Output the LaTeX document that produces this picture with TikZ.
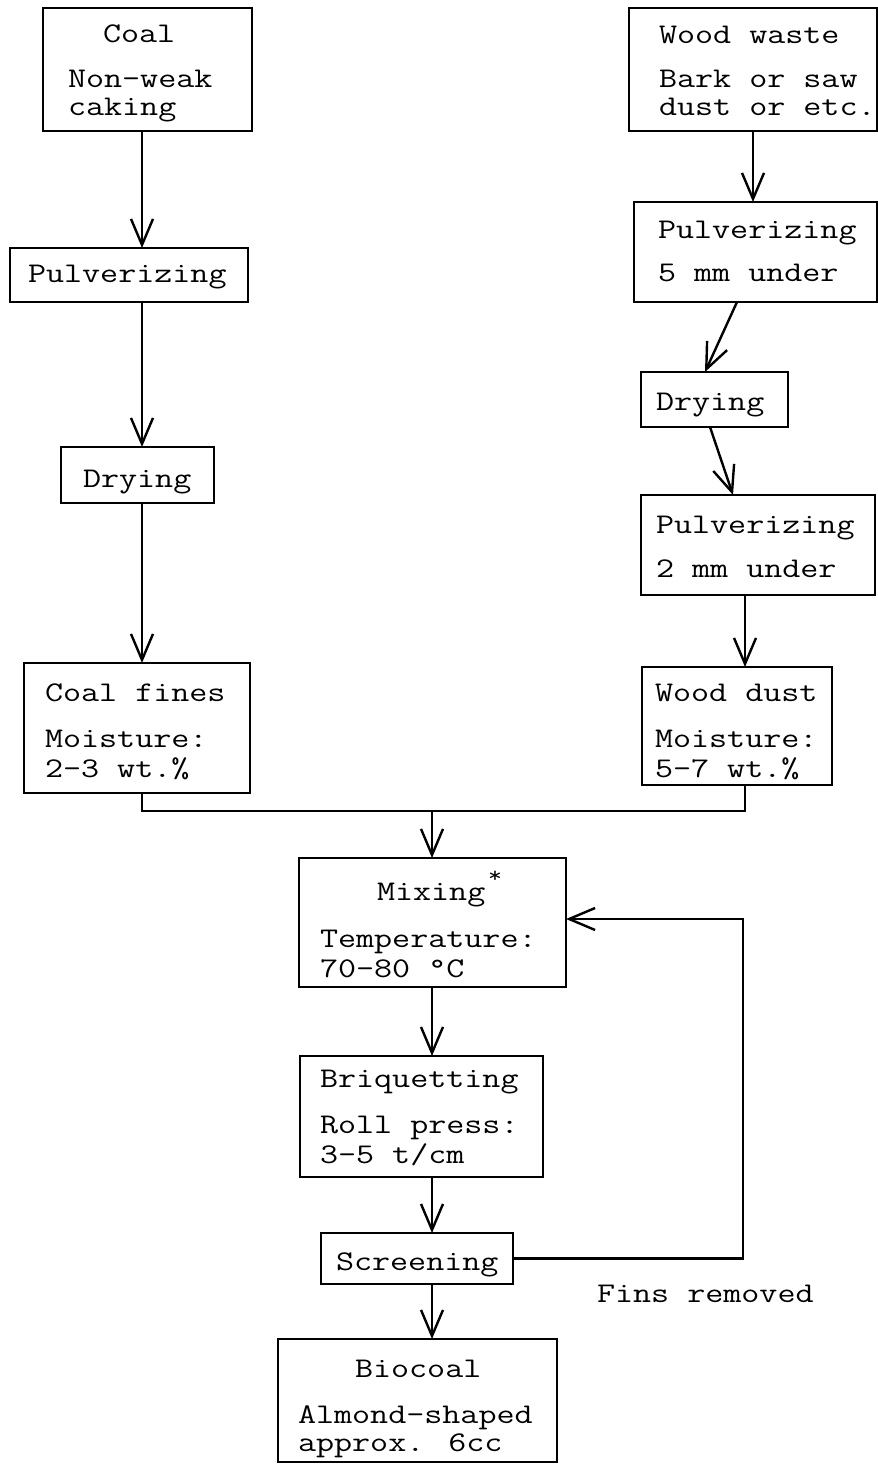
\documentclass[tikz,border=0pt]{standalone}
\usepackage{fontspec}
\usepackage{graphicx}
\usetikzlibrary{arrows.meta}
\newcommand{\tw}[1]{\scalebox{1.23}[1]{#1}}
\begin{document}
\begin{tikzpicture}[x=1pt,y=-1pt,
  box/.style={draw=black, line width=2.8pt, inner sep=0pt, outer sep=0pt, fill=none},
  txt/.style={inner sep=0pt, outer sep=0pt, anchor=base west, font=\fontsize{28.5}{30}\selectfont\ttfamily},
  conn/.style={draw=black, line width=2.4pt},
  arr/.style={conn, -{Straight Barb[length=26pt, width=22pt, line width=2.4pt]}}
]
\useasboundingbox[fill=white] (0,0) rectangle (878,1467);

% ---------- boxes ----------
\node[box, minimum width=209pt, minimum height=123pt] (coal)   at (147.5,69.5) {};
\node[box, minimum width=238pt, minimum height=54pt]  (pulvL)  at (129,275) {};
\node[box, minimum width=153pt, minimum height=56pt]  (dryL)   at (137.5,475) {};
\node[box, minimum width=226pt, minimum height=130pt] (fines)  at (137,728) {};
\node[box, minimum width=248pt, minimum height=123pt] (wood)   at (753,69.5) {};
\node[box, minimum width=243pt, minimum height=100pt] (pulvR)  at (755.5,252) {};
\node[box, minimum width=147pt, minimum height=55pt]  (dryR)   at (714.5,399.5) {};
\node[box, minimum width=234pt, minimum height=100pt] (pulv2)  at (758,545) {};
\node[box, minimum width=190pt, minimum height=118pt] (dust)   at (737,726) {};
\node[box, minimum width=267pt, minimum height=129pt] (mix)    at (432.5,922.5) {};
\node[box, minimum width=243pt, minimum height=121pt] (briq)   at (421.5,1116.5) {};
\node[box, minimum width=192pt, minimum height=51pt]  (screen) at (417,1258.5) {};
\node[box, minimum width=279pt, minimum height=123pt] (bio)    at (417.5,1400.5) {};

% ---------- texts ----------
\node[txt] (t1)  at (103,42)  {\tw{Coal}};
\node[txt] (t2)  at (68,87)   {\tw{Non-weak}};
\node[txt] (t3)  at (68,115)  {\tw{caking}};
\node[txt] (t4)  at (28,282)  {\tw{Pulverizing}};
\node[txt] (t5)  at (83,487)  {\tw{Drying}};
\node[txt] (t6)  at (45,701)  {\tw{Coal fines}};
\node[txt] (t7)  at (45,747)  {\tw{Moisture:}};
\node[txt] (t8)  at (45,777)  {\tw{2-3 wt.\%}};
\node[txt] (t9)  at (659,43)  {\tw{Wood waste}};
\node[txt] (t10) at (659,87)  {\tw{Bark or saw}};
\node[txt] (t11) at (659,115) {\tw{dust or etc.}};
\node[txt] (t12) at (658,238) {\tw{Pulverizing}};
\node[txt] (t13) at (658,281) {\tw{5 mm under}};
\node[txt] (t14) at (656,410) {\tw{Drying}};
\node[txt] (t15) at (656,533) {\tw{Pulverizing}};
\node[txt] (t16) at (656,577) {\tw{2 mm under}};
\node[txt] (t17) at (655,701) {\tw{Wood dust}};
\node[txt] (t18) at (655,747) {\tw{Moisture:}};
\node[txt] (t19) at (655,777) {\tw{5-7 wt.\%}};
\node[txt] (t20) at (377,900) {\tw{Mixing}};
\node[inner sep=0pt, font=\fontsize{22}{22}\selectfont\ttfamily] (ast) at (495,877) {\tw{*}};
\node[txt] (t21) at (320,947) {\tw{Temperature:}};
\node[txt] (t22) at (320,977) {\tw{70-80 °C}};
\node[txt] (t23) at (320,1087) {\tw{Briquetting}};
\node[txt] (t24) at (320,1133) {\tw{Roll press:}};
\node[txt] (t25) at (320,1163) {\tw{3-5 t/cm}};
\node[txt] (t26) at (336,1270) {\tw{Screening}};
\node[txt] (t27) at (355,1377) {\tw{Biocoal}};
\node[txt] (t28) at (298,1423) {\tw{Almond-shaped}};
\node[txt] (t29) at (298,1451) {\tw{approx. 6cc}};
\node[txt] (t30) at (597,1302) {\tw{Fins removed}};

% ---------- connectors ----------
\draw[arr] (142,0 |- coal.south) -- (142,0 |- pulvL.north);
\draw[arr] (142,0 |- pulvL.south) -- (142,0 |- dryL.north);
\draw[arr] (142,0 |- dryL.south) -- (142,0 |- fines.north);
\draw[arr] (753,0 |- wood.south) -- (753,0 |- pulvR.north);
\draw[arr] (737,0 |- pulvR.south) -- (705,0 |- dryR.north);
\draw[arr] (710,0 |- dryR.south) -- (733,0 |- pulv2.north);
\draw[arr] (745,0 |- pulv2.south) -- (745,0 |- dust.north);

\coordinate (mj) at (432,811);
\draw[conn] (142,0 |- fines.south) |- (mj);
\draw[conn] (745,0 |- dust.south) |- (mj);
\draw[arr] (mj) -- (mj |- mix.north);

\draw[arr] (432,0 |- mix.south) -- (432,0 |- briq.north);
\draw[arr] (432,0 |- briq.south) -- (432,0 |- screen.north);
\draw[arr] (432,0 |- screen.south) -- (432,0 |- bio.north);

\coordinate (fb) at (743,919);
\draw[arr] (screen.east) -| (fb) -- (fb -| mix.east);
\end{tikzpicture}
\end{document}
